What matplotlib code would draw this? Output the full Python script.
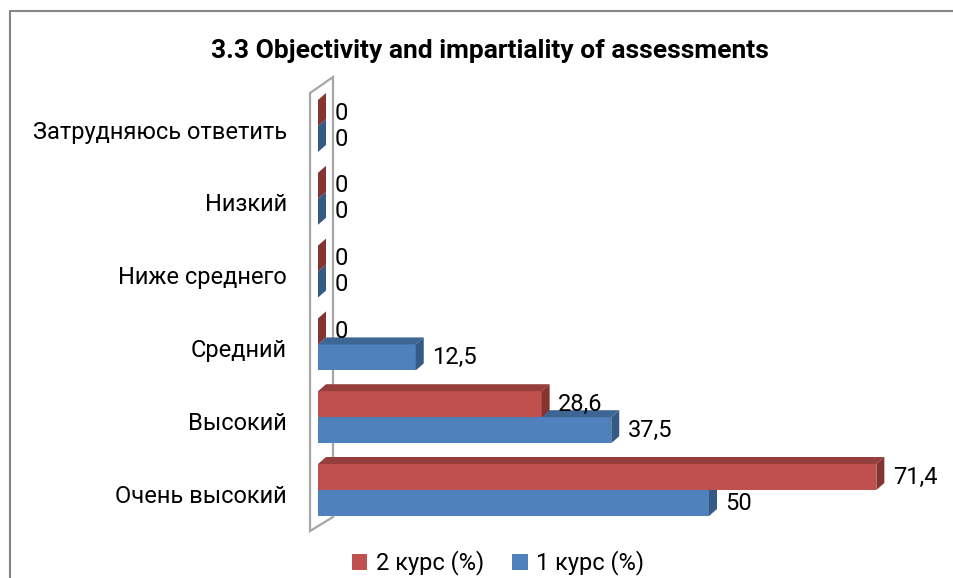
import numpy as np
import matplotlib
matplotlib.use("Agg")
from matplotlib import pyplot as plt
from matplotlib.patches import Polygon, Patch, Rectangle

plt.rcParams["font.family"] = ["Roboto", "DejaVu Sans"]

categories = ["Очень высокий", "Высокий", "Средний", "Ниже среднего", "Низкий", "Затрудняюсь ответить"]
kurs2 = [71.4, 28.6, 0, 0, 0, 0]
kurs1 = [50, 37.5, 12.5, 0, 0, 0]
series_names = ["2 курс (%)", "1 курс (%)"]
title = "3.3 Objectivity and impartiality of assessments"

red = "#C0504D"
red_top = "#963E3B"
red_side = "#853432"
blue = "#4F81BD"
blue_top = "#3D6694"
blue_side = "#355A85"

W, H = 954, 578
fig = plt.figure(figsize=(W / 100, H / 100), dpi=100)

# pixel layout of the plot area
x0_px, unit_x = 318, 7.82
y0_px, unit_y = 490, 72.8
xmin, xmax = -2, 80
top_px, bot_px = 70, 540
left_px = x0_px + xmin * unit_x
right_px = x0_px + xmax * unit_x
ax = fig.add_axes([left_px / W, 1 - bot_px / H, (right_px - left_px) / W, (bot_px - top_px) / H])
ax.set_xlim(xmin, xmax)
ax.set_ylim((y0_px - bot_px) / unit_y, (y0_px - top_px) / unit_y)

ypos = np.arange(len(categories))
h = 26 / unit_y
dx = 8 / unit_x
dy = 7 / unit_y

# side wall
n = len(categories)
wall = Polygon([(-1.02, -0.563), (-1.02, n - 0.547), (1.92, n - 0.327), (1.92, -0.371)],
               closed=True, facecolor="white", edgecolor="#A6A6A6", lw=1.6, zorder=1)
ax.add_patch(wall)


def bar3d(v, bottom, front, top, side):
    ax.add_patch(Rectangle((0, bottom), v, h, facecolor=front, edgecolor="none", zorder=2))
    ax.add_patch(Polygon([(0, bottom + h), (dx, bottom + h + dy), (v + dx, bottom + h + dy), (v, bottom + h)],
                         facecolor=top, edgecolor="none", zorder=2))
    ax.add_patch(Polygon([(v, bottom), (v, bottom + h), (v + dx, bottom + h + dy), (v + dx, bottom + dy)],
                         facecolor=side, edgecolor="none", zorder=2))


for i in ypos:
    bar3d(kurs1[i], i - h, blue, blue_top, blue_side)
    bar3d(kurs2[i], i, red, red_top, red_side)


def fmt(v):
    return ("%g" % v).replace(".", ",")


for i in ypos:
    ax.annotate(fmt(kurs2[i]), (kurs2[i] + dx, i + h / 2), xytext=(6, 0), textcoords="offset points",
                va="center", ha="left", fontsize=17, zorder=3)
    ax.annotate(fmt(kurs1[i]), (kurs1[i] + dx, i - h / 2), xytext=(6, 0), textcoords="offset points",
                va="center", ha="left", fontsize=17, zorder=3)

ax.set_yticks(ypos - 0.05)
ax.set_yticklabels(categories, fontsize=17)
ax.tick_params(axis="y", length=0, pad=(left_px - 287) * 0.72)
ax.set_xticks([])
for s in ax.spines.values():
    s.set_visible(False)
ax.patch.set_alpha(0)

fig.text(490 / W, 1 - 51 / H, title, ha="center", va="center", fontsize=19, fontweight="bold")

handles = [Patch(facecolor=red), Patch(facecolor=blue)]
fig.legend(handles, series_names, loc="center", bbox_to_anchor=(498 / W, 1 - 563 / H), ncol=2,
           frameon=False, fontsize=17, handlelength=0.65, handleheight=0.65, handletextpad=0.35,
           columnspacing=1.2)

fig.add_artist(Rectangle((10 / W, -0.05), 1.2, 1.05 - 11 / H, transform=fig.transFigure,
                         facecolor="none", edgecolor="#868686", lw=1.5))

fig.savefig("out.png", dpi=100)
